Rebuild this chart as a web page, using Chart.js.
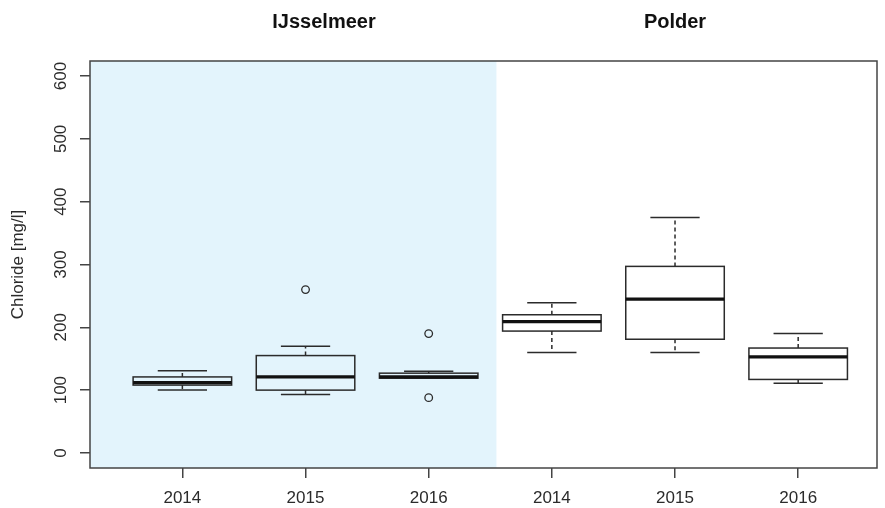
<!DOCTYPE html>
<html><head><meta charset="utf-8">
<script src="https://cdn.jsdelivr.net/npm/chart.js@4/dist/chart.umd.min.js"></script>
<style>html,body{margin:0;padding:0;background:#fff;overflow:hidden}#wrap{width:885px;height:508px;position:relative}</style>
</head><body><div id="wrap"><canvas id="c"></canvas></div>
<script>
// ---- data ----
const groups = ['IJsselmeer', 'Polder'];
const groupTitleAt = [2.15, 5];
const categories = ['2014', '2015', '2016', '2014', '2015', '2016'];
const whiskerLow  = [100,  93, 119, 160, 160, 111];
const q1          = [108, 100, 119, 194, 181, 117];
const median      = [112, 121, 121, 209, 245, 153];
const q3          = [121, 155, 127, 220, 297, 167];
const whiskerHigh = [131, 170, 130, 239, 375, 190];
const outlierX = [2, 3, 3];
const outlierY = [260, 190, 88];
const yTicks = [0, 100, 200, 300, 400, 500, 600];
const yTitle = 'Chloride [mg/l]';
const shadedUntil = 3.55;

const FONT = "'Liberation Sans', Arial, sans-serif";
const INK = '#2b2b2b';

const boxPlugin = {
  id: 'boxes',
  beforeDatasetsDraw(chart) {
    const {ctx, chartArea: a, scales: {x, y}} = chart;
    ctx.save();
    ctx.fillStyle = '#e3f4fc';
    const xe = x.getPixelForValue(shadedUntil);
    ctx.fillRect(a.left, a.top, xe - a.left, a.bottom - a.top);
    const py = v => y.getPixelForValue(v);
    categories.forEach((c, i) => {
      const xc = x.getPixelForValue(i + 1);
      const hw = x.getPixelForValue(i + 1.4) - xc;
      const cw = hw / 2;
      ctx.strokeStyle = INK;
      ctx.lineWidth = 1.5;
      ctx.setLineDash([4, 3]);
      ctx.beginPath();
      ctx.moveTo(xc, py(q3[i])); ctx.lineTo(xc, py(whiskerHigh[i]));
      ctx.moveTo(xc, py(q1[i])); ctx.lineTo(xc, py(whiskerLow[i]));
      ctx.stroke();
      ctx.setLineDash([]);
      ctx.beginPath();
      ctx.moveTo(xc - cw, py(whiskerHigh[i])); ctx.lineTo(xc + cw, py(whiskerHigh[i]));
      ctx.moveTo(xc - cw, py(whiskerLow[i])); ctx.lineTo(xc + cw, py(whiskerLow[i]));
      ctx.stroke();
      ctx.strokeRect(xc - hw, py(q3[i]), 2 * hw, py(q1[i]) - py(q3[i]));
      ctx.strokeStyle = '#111';
      ctx.lineWidth = 3.2;
      ctx.beginPath();
      ctx.moveTo(xc - hw, py(median[i])); ctx.lineTo(xc + hw, py(median[i]));
      ctx.stroke();
    });
    ctx.strokeStyle = '#444';
    ctx.lineWidth = 1.5;
    ctx.strokeRect(a.left, a.top, a.right - a.left, a.bottom - a.top);
    ctx.restore();
  },
  afterDraw(chart) {
    const {ctx, scales: {x}} = chart;
    ctx.save();
    ctx.fillStyle = '#111';
    ctx.font = 'bold 20px ' + FONT;
    ctx.textAlign = 'center';
    ctx.textBaseline = 'alphabetic';
    groups.forEach((g, i) => ctx.fillText(g, x.getPixelForValue(groupTitleAt[i]), 28));
    ctx.restore();
  }
};

new Chart(document.getElementById('c'), {
  type: 'scatter',
  data: {
    datasets: [{
      data: outlierX.map((v, i) => ({x: v, y: outlierY[i]})),
      pointStyle: 'circle',
      pointRadius: 3.8,
      pointBorderWidth: 1.3,
      borderColor: INK,
      backgroundColor: 'rgba(0,0,0,0)',
      pointHoverRadius: 3.8
    }]
  },
  options: {
    responsive: true,
    maintainAspectRatio: false,
    animation: false,
    events: [],
    layout: {padding: {top: 61, right: 8, left: 0, bottom: 0}},
    plugins: {legend: {display: false}, tooltip: {enabled: false}},
    scales: {
      x: {
        type: 'linear', min: 0.25, max: 6.64,
        afterBuildTicks: s => { s.ticks = categories.map((c, i) => ({value: i + 1})); },
        afterFit: s => { s.height = 40; },
        ticks: {
          callback: (v) => categories[Math.round(v) - 1],
          color: INK, font: {family: FONT, size: 17}, padding: 10, autoSkip: false,
          maxRotation: 0, minRotation: 0
        },
        grid: {drawOnChartArea: false, drawTicks: true, tickLength: 10, color: '#444', lineWidth: 1.5},
        border: {display: false}
      },
      y: {
        type: 'linear', min: -24, max: 624,
        afterBuildTicks: s => { s.ticks = yTicks.map(v => ({value: v})); },
        afterFit: s => { s.width = 90; },
        ticks: {
          color: INK, font: {family: FONT, size: 17}, padding: 5,
          minRotation: 90, maxRotation: 90, crossAlign: 'center'
        },
        grid: {drawOnChartArea: false, drawTicks: true, tickLength: 10, color: '#444', lineWidth: 1.5},
        border: {display: false},
        title: {display: true, text: yTitle, color: INK, font: {family: FONT, size: 17}, padding: {top: 8}}
      }
    }
  },
  plugins: [boxPlugin]
});
</script></body></html>
